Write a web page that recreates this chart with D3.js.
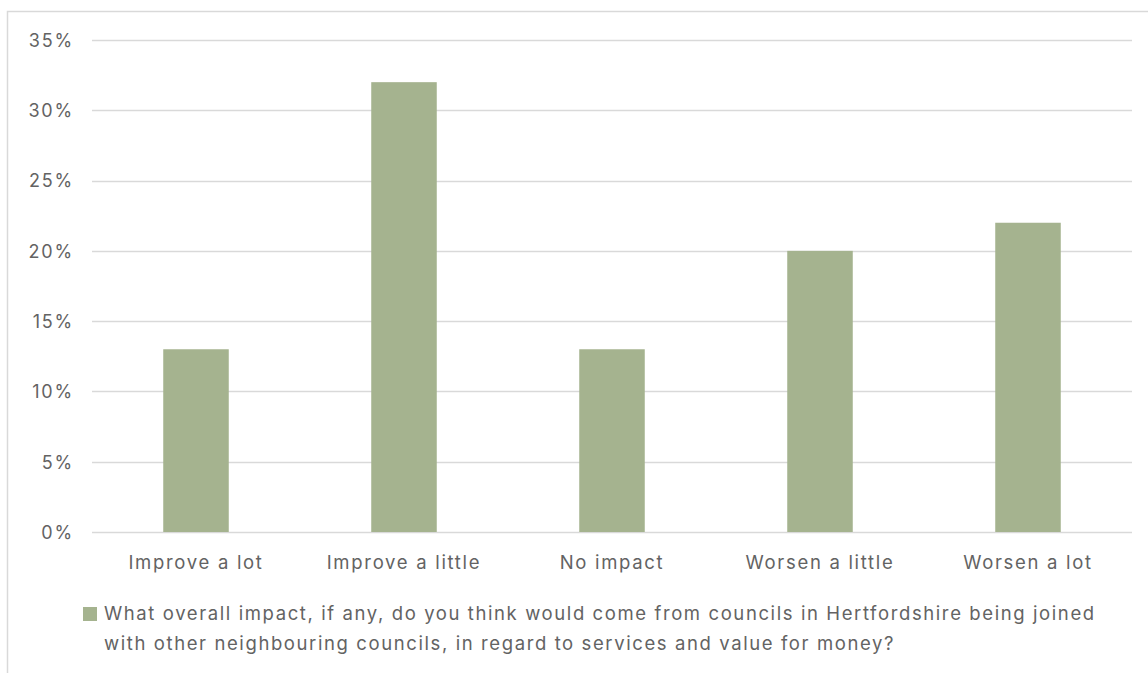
<!DOCTYPE html>
<html>
<head>
<meta charset="utf-8">
<script src="https://cdn.jsdelivr.net/npm/d3@7"></script>
<style>
  html, body { margin: 0; padding: 0; background: #fff; }
</style>
</head>
<body>
<svg id="chart" width="1148" height="673"></svg>
<script>
// Survey responses: share of respondents per answer
const categories = ["Improve a lot", "Improve a little", "No impact", "Worsen a little", "Worsen a lot"];
const values = [0.13, 0.32, 0.13, 0.20, 0.22];
const yTicks = [0, 0.05, 0.10, 0.15, 0.20, 0.25, 0.30, 0.35];
const legendLines = [
  "What overall impact, if any, do you think would come from councils in Hertfordshire being joined",
  "with other neighbouring councils, in regard to services and value for money?"
];

const FONT = "Inter, 'DejaVu Sans', sans-serif";
const svg = d3.select("#chart");
const textColor = "#636363";
const barColor = "#a5b38f";
const gridColor = "#d9d9d9";

// Outer chart frame (top and left edges visible)
svg.append("path")
  .attr("d", "M7.5,673 L7.5,11.5 L1148,11.5")
  .attr("fill", "none")
  .attr("stroke", "#d9d9d9")
  .attr("stroke-width", 1.5);

const plot = { left: 92, right: 1132, top: 40, bottom: 532 };

const x = d3.scaleBand()
  .domain(categories)
  .range([plot.left, plot.right])
  .paddingInner(0.685)
  .paddingOuter(0.3425);

const y = d3.scaleLinear()
  .domain([0, 0.35])
  .range([plot.bottom, plot.top]);

// Horizontal gridlines
svg.append("g")
  .selectAll("line")
  .data(yTicks)
  .join("line")
  .attr("x1", plot.left)
  .attr("x2", plot.right)
  .attr("y1", d => Math.round(y(d)) + 0.5)
  .attr("y2", d => Math.round(y(d)) + 0.5)
  .attr("stroke", gridColor)
  .attr("stroke-width", 1.5);

// Y axis labels
const yAxis = d3.axisLeft(y)
  .tickValues(yTicks)
  .tickFormat(d3.format(".0%"))
  .tickSize(0)
  .tickPadding(0);

svg.append("g")
  .attr("transform", `translate(${plot.left - 18},0)`)
  .call(yAxis)
  .call(g => g.select(".domain").remove())
  .call(g => g.selectAll("text")
    .style("font-family", FONT)
    .attr("fill", textColor)
    .attr("font-size", 18)
    .attr("letter-spacing", "1.8px")
    .attr("dy", "0.35em"));

// Bars
svg.append("g")
  .selectAll("rect")
  .data(values)
  .join("rect")
  .attr("x", (d, i) => x(categories[i]))
  .attr("width", x.bandwidth())
  .attr("y", d => y(d))
  .attr("height", d => y(0) - y(d))
  .attr("fill", barColor);

// X axis category labels
const xAxis = d3.axisBottom(x).tickSize(0).tickPadding(0);
svg.append("g")
  .attr("transform", `translate(0,${plot.bottom})`)
  .call(xAxis)
  .call(g => g.select(".domain").remove())
  .call(g => g.selectAll("text")
    .style("font-family", FONT)
    .attr("fill", textColor)
    .attr("font-size", 18.5)
    .attr("letter-spacing", "1.7px")
    .attr("y", 24)
    .attr("dy", "0.71em"));

// Legend
const legend = svg.append("g").attr("transform", "translate(83,606)");
legend.append("rect")
  .attr("x", 0)
  .attr("y", 1)
  .attr("width", 14)
  .attr("height", 14)
  .attr("fill", barColor);
legend.append("text")
  .style("font-family", FONT)
  .attr("x", 21)
  .attr("y", 14)
  .attr("fill", textColor)
  .attr("font-size", 18.5)
  .attr("letter-spacing", "1.6px")
  .selectAll("tspan")
  .data(legendLines)
  .join("tspan")
  .attr("x", 21)
  .attr("dy", (d, i) => i === 0 ? 0 : 30)
  .text(d => d);
</script>
</body>
</html>
